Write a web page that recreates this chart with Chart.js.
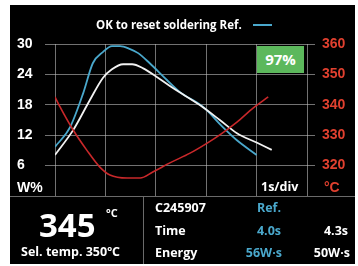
<!DOCTYPE html>
<html>
<head>
<meta charset="utf-8">
<script src="https://cdn.jsdelivr.net/npm/chart.js@4"></script>
<style>
  body { margin:0; background:#fff; width:358px; height:266px; overflow:hidden; position:relative; }
  #screen { position:absolute; left:10px; top:5px; width:345px; height:259px; background:#000; }
  #chart { position:absolute; left:0; top:0; }
  .t { position:absolute; font-family:"Open Sans", sans-serif; font-weight:bold; color:#fff; white-space:nowrap; line-height:16px; height:16px; }
  .line { position:absolute; background:#6a6a6a; }
</style>
</head>
<body>
<div id="screen"></div>
<canvas id="chart" width="358" height="266"></canvas>

<div class="line" style="left:10px;top:196px;width:345px;height:1px"></div>
<div class="line" style="left:143px;top:196px;width:1px;height:68px"></div>

<div class="t" style="left:96px;top:17px;font-size:11.5px">OK to reset soldering Ref.</div>
<div style="position:absolute;left:253px;top:24px;width:19px;height:2px;background:#4aa8cc"></div>

<div style="position:absolute;left:257px;top:46px;width:47px;height:27px;background:#5cb85c"></div>
<div class="t" style="left:257px;top:51px;width:47px;text-align:center;font-size:15px">97%</div>

<div class="t" style="left:17px;top:179px;font-family:'Liberation Sans',sans-serif;font-size:14px">W%</div>
<div class="t" style="left:261px;top:179px;font-size:12.5px">1s/div</div>
<div class="t" style="left:324px;top:179px;font-family:'Liberation Sans',sans-serif;font-size:14px;color:#e0402f">°C</div>

<div class="t" style="left:39px;top:207px;font-size:33px;line-height:36px;height:36px">345</div>
<div class="t" style="left:106px;top:205px;font-size:11px">°C</div>
<div class="t" style="left:21px;top:244px;font-size:12.5px">Sel. temp. 350ºC</div>

<div class="t" style="left:155px;top:200px;font-size:12.5px">C245907</div>
<div class="t" style="left:155px;top:223px;font-size:12.5px">Time</div>
<div class="t" style="left:155px;top:245px;font-size:12.5px">Energy</div>

<div class="t" style="right:77px;top:200px;font-size:12.5px;color:#4aa8cc">Ref.</div>
<div class="t" style="right:77px;top:223px;font-size:12.5px;color:#4aa8cc">4.0s</div>
<div class="t" style="right:76px;top:245px;font-size:12.5px;color:#4aa8cc">56W·s</div>
<div class="t" style="right:10px;top:223px;font-size:12.5px">4.3s</div>
<div class="t" style="right:8px;top:245px;font-size:12.5px">50W·s</div>

<script>
// reference profile (W%)
var refTime  = [0, 0.3, 0.56, 0.75, 0.95, 1.13, 1.29, 1.49, 1.65, 1.88, 2.22, 2.48, 2.94, 3.33, 3.61, 4.0]
var refPower = [9.7, 13.6, 20.3, 26.2, 28.4, 29.6, 29.6, 29.0, 28.2, 26.2, 22.9, 20.5, 17.6, 13.6, 11.0, 8.1]
// this soldering (W%)
var solderTime  = [0, 0.36, 0.69, 0.95, 1.13, 1.35, 1.53, 1.75, 2.02, 2.34, 2.88, 3.27, 3.61, 4.01, 4.3]
var solderPower = [8.1, 13.0, 18.9, 23.3, 25.0, 26.0, 26.0, 25.2, 23.5, 21.3, 17.9, 15.0, 12.4, 10.5, 9.1]
// tip temperature (°C)
var tempTime  = [0, 0.1, 0.36, 0.63, 0.89, 1.09, 1.43, 1.69, 1.94, 2.28, 2.68, 3.02, 3.27, 3.61, 3.93, 4.23]
var tempValue = [342.6, 339.3, 331.7, 325.1, 319.5, 316.9, 315.9, 315.9, 317.9, 320.9, 324.1, 327.4, 330.1, 334.3, 338.9, 342.6]

var powerTicks = [0, 6, 12, 18, 24, 30]
var tempTicks  = [310, 320, 330, 340, 350, 360]
var timeTicks  = [0, 1, 2, 3, 4, 5]

function pts(xs, ys){
    var out = []
    for (var i = 0; i < xs.length; i++) out.push({x: xs[i], y: ys[i]})
    return out
}
function setTicks(list){
    return function(scale){ scale.ticks = list.map(function(v){ return {value: v} }) }
}

var gridColor = 'rgba(190,190,190,0.6)'
var ctx = document.getElementById('chart').getContext('2d')
var chart = new Chart(ctx, {
    type: 'line',
    data: {
        datasets: [
            {label: 'Temp', data: pts(tempTime, tempValue), yAxisID: 'yT',
             borderColor: '#c8282a', borderWidth: 1.6, pointRadius: 0, cubicInterpolationMode: 'monotone'},
            {label: 'Soldering', data: pts(solderTime, solderPower), yAxisID: 'y',
             borderColor: '#f2f2f2', borderWidth: 1.8, pointRadius: 0, cubicInterpolationMode: 'monotone'},
            {label: 'OK to reset soldering Ref.', data: pts(refTime, refPower), yAxisID: 'y',
             borderColor: '#4aa8cc', borderWidth: 1.8, pointRadius: 0, cubicInterpolationMode: 'monotone'}
        ]
    },
    options: {
        responsive: false,
        animation: false,
        layout: {padding: {left: 17, right: 0, top: 44, bottom: 0}},
        plugins: {legend: {display: false}, tooltip: {enabled: false}},
        scales: {
            x: {
                type: 'linear', min: 0, max: 5,
                afterBuildTicks: setTicks(timeTicks),
                ticks: {display: false},
                grid: {color: gridColor, drawTicks: false},
                border: {display: false},
                afterFit: function(s){ s.height = 70 }
            },
            y: {
                position: 'left', min: 0, max: 30,
                afterBuildTicks: setTicks(powerTicks),
                ticks: {
                    color: '#fff', crossAlign: 'far', padding: 4,
                    font: {family: 'Liberation Sans', size: 14, weight: 'bold'},
                    callback: function(v){ return v === 0 ? '' : v }
                },
                grid: {color: gridColor, tickLength: 10},
                border: {display: false},
                afterFit: function(s){ s.width = 38 }
            },
            yT: {
                position: 'right', min: 310, max: 360,
                afterBuildTicks: setTicks(tempTicks),
                ticks: {
                    color: '#e0402f', padding: 7,
                    font: {family: 'Liberation Sans', size: 14, weight: 'bold'},
                    callback: function(v){ return v === 310 ? '' : v }
                },
                grid: {color: gridColor, drawOnChartArea: false, tickLength: 8},
                border: {display: false},
                afterFit: function(s){ s.width = 51 }
            }
        }
    }
})
</script>
</body>
</html>
